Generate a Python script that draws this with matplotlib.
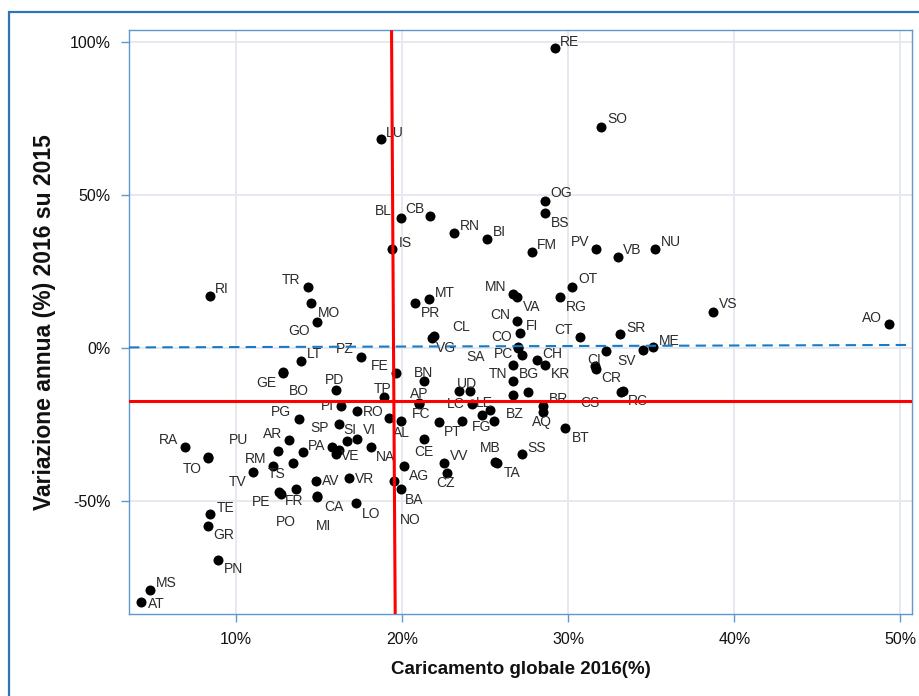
import matplotlib
matplotlib.use("Agg")
import matplotlib.pyplot as plt
from matplotlib import font_manager
from matplotlib.ticker import FixedLocator, FuncFormatter
from matplotlib.patches import Rectangle

# Province codes, global load 2016 (%) and yearly change 2016 vs 2015 (%)
province = [
    "RE", "SO", "LU", "OG", "BS", "BL", "CB", "IS", "RN", "BI", "FM", "PV", "VB", "NU",
    "VS", "AO", "RI", "TR", "MO", "GO", "MT", "PR", "MN", "VA", "OT", "RG", "CN", "FI",
    "CO", "SA", "PC", "CL", "VG", "CT", "SR", "ME", "", "SV", "CI", "CR", "RC", "CS",
    "CH", "KR", "BG", "TN", "", "", "BR", "AQ", "BT", "UD", "LC", "LE", "FG", "BZ",
    "", "", "PT", "CE", "VV", "CZ", "AG", "BA", "NO", "MB", "TA", "SS", "BN", "AP",
    "FC", "AL", "", "TP", "FE", "PZ", "LT", "GE", "BO", "PD", "PI", "RO", "PG", "SP",
    "SI", "VI", "NA", "AR", "PA", "VE", "", "", "RM", "", "TS", "TV", "RA", "TO",
    "PU", "AV", "VR", "PE", "PO", "FR", "CA", "MI", "LO", "TE", "GR", "PN", "MS", "AT",
]
caricamento = [
    29.2, 32.0, 18.7, 28.6, 28.6, 19.9, 21.7, 19.4, 23.1, 25.1, 27.8, 31.7, 33.0, 35.2,
    38.7, 49.3, 8.4, 14.3, 14.5, 14.9, 21.6, 20.8, 26.7, 26.9, 30.2, 29.5, 26.9, 27.1,
    27.0, 27.0, 27.2, 21.9, 21.8, 30.7, 33.1, 35.1, 34.5, 32.3, 31.6, 31.7, 33.3, 33.2,
    28.1, 28.6, 26.7, 26.7, 26.7, 27.6, 28.5, 28.5, 29.8, 24.1, 23.4, 24.2, 24.8, 25.3,
    25.5, 23.6, 22.2, 21.3, 22.5, 22.7, 20.1, 19.9, 19.5, 25.6, 25.7, 27.2, 21.3, 21.0,
    21.0, 19.9, 19.2, 18.9, 19.6, 17.5, 13.9, 12.8, 12.8, 16.0, 16.3, 17.3, 13.8, 16.2,
    16.7, 17.3, 18.1, 13.2, 14.0, 15.8, 16.2, 16.0, 12.5, 13.4, 12.2, 11.0, 6.9, 8.3,
    8.3, 14.8, 16.8, 12.6, 12.7, 13.6, 14.9, 14.9, 17.2, 8.4, 8.3, 8.9, 4.8, 4.3,
]
variazione = [
    98.0, 72.2, 68.3, 48.0, 44.1, 42.5, 43.1, 32.4, 37.6, 35.6, 31.4, 32.4, 29.7, 32.4,
    11.8, 7.8, 17.0, 19.9, 14.7, 8.5, 16.0, 14.7, 17.6, 16.7, 19.9, 16.7, 8.8, 4.9,
    0.3, 0.0, -2.3, 3.9, 3.3, 3.6, 4.6, 0.3, -0.7, -1.0, -5.9, -6.9, -14.1, -14.4,
    -3.9, -5.6, -5.6, -10.8, -15.4, -14.4, -19.0, -20.9, -26.1, -14.1, -14.1, -18.3, -21.9, -20.3,
    -23.9, -23.9, -24.2, -29.7, -37.6, -40.8, -38.6, -46.1, -43.5, -37.3, -37.6, -34.6, -10.8, -18.0,
    -18.3, -23.9, -22.9, -16.0, -8.2, -2.9, -4.2, -7.8, -8.2, -13.7, -19.0, -20.6, -23.2, -24.8,
    -30.4, -29.7, -32.4, -30.1, -34.0, -32.4, -33.3, -34.6, -33.7, -37.6, -38.6, -40.5, -32.4, -35.9,
    -35.6, -43.5, -42.5, -47.1, -47.7, -46.1, -48.4, -48.7, -50.7, -54.2, -58.2, -69.3, -79.1, -83.0,
]

# Reference lines: average load (slightly sloped), average change, zero-change trend
soglia_x = [19.36, 19.58]
soglia_x_y = [103.3, -86.9]
soglia_y = -17.3
trend_x = [3.55, 50.7]
trend_y = [0.2, 1.0]

x_ticks = [10, 20, 30, 40, 50]
y_ticks = [-50, 0, 50, 100]

# Label placement around each marker: (dx, dy) in pixels, y pointing up
label_offset = {
    "RE": (15, 7), "SO": (16, 9), "LU": (14, 7), "OG": (16, 9), "BS": (15, -9),
    "BL": (-17, 8), "CB": (-16, 8), "IS": (13, 7), "RN": (16, 8), "BI": (13, 8),
    "FM": (15, 8), "PV": (-16, 8), "VB": (14, 8), "NU": (16, 8), "VS": (15, 9),
    "AO": (-17, 7), "RI": (12, 8), "TR": (-17, 8), "MO": (18, -9), "GO": (-18, -8),
    "MT": (16, 7), "PR": (15, -9), "MN": (-18, 8), "VA": (15, -9), "OT": (16, 9),
    "RG": (16, -9), "CN": (-17, 7), "FI": (12, 8), "CO": (-17, 11), "SA": (-43, -8),
    "PC": (-18, 2), "CL": (27, 10), "VG": (14, -9), "CT": (-16, 8), "SR": (16, 7),
    "ME": (16, 7), "SV": (20, -9), "CI": (-1, 7), "CR": (15, -8), "RC": (15, -9),
    "CS": (-32, -10), "CH": (16, 7), "KR": (16, -8), "BG": (15, -8), "TN": (-15, 8),
    "BR": (15, 8), "AQ": (-1, -9), "BT": (16, -9), "UD": (-3, 8), "LC": (-3, -12),
    "LE": (12, 2), "FG": (0, -11), "BZ": (25, -3), "PT": (14, -9), "CE": (0, -12),
    "VV": (15, 8), "CZ": (-2, -9), "AG": (15, -9), "BA": (14, -10), "NO": (16, -38),
    "MB": (-5, 15), "TA": (15, -9), "SS": (15, 7), "BN": (0, 9), "AP": (0, 10),
    "FC": (2, -9), "AL": (1, -11), "TP": (-1, 9), "FE": (-16, 8), "PZ": (-16, 9),
    "LT": (14, 8), "GE": (-16, -10), "BO": (16, -17), "PD": (-1, 11), "PI": (-13, 1),
    "RO": (16, 0), "PG": (-18, 8), "SP": (-19, -3), "SI": (3, 12), "VI": (12, 10),
    "NA": (15, -9), "AR": (-17, 7), "PA": (14, 7), "VE": (18, -8), "RM": (-22, -7),
    "TS": (4, -7), "TV": (-15, -9), "RA": (-16, 8), "TO": (-16, -10), "PU": (31, 18),
    "AV": (15, 1), "VR": (16, 0), "PE": (-18, -9), "PO": (5, -27), "FR": (-2, -11),
    "CA": (16, -10), "MI": (6, -28), "LO": (15, -10), "TE": (16, 7), "GR": (16, -8),
    "PN": (16, -8), "MS": (16, 8), "AT": (15, -1),
}

installed = {f.name for f in font_manager.fontManager.ttflist}
narrow = "Liberation Sans Narrow" if "Liberation Sans Narrow" in installed else "Liberation Sans"
regular = "Liberation Sans"

fig = plt.figure(figsize=(9.2, 6.96), dpi=100)
ax = fig.add_axes([129 / 920, 1 - 614 / 696, 783 / 920, 584 / 696])

# Outer frame of the whole panel
fig.patches.append(Rectangle((9 / 920, -0.05), 1.2, 1 - 12 / 696 + 0.05,
                             transform=fig.transFigure, fill=False,
                             edgecolor="#2f74b5", linewidth=1.6, zorder=0))

ax.set_xlim(3.55, 50.7)
ax.set_ylim(-86.9, 103.9)

ax.xaxis.set_major_locator(FixedLocator(x_ticks))
ax.yaxis.set_major_locator(FixedLocator(y_ticks))
ax.xaxis.set_major_formatter(FuncFormatter(lambda v, p: f"{v:.0f}%"))
ax.yaxis.set_major_formatter(FuncFormatter(lambda v, p: f"{v:.0f}%"))

ax.grid(True, color="#e6e9f0", linewidth=1.4, zorder=0)
ax.set_axisbelow(True)
for s in ax.spines.values():
    s.set_color("#5f97cf")
    s.set_linewidth(1.0)
ax.tick_params(axis="both", direction="out", length=6, width=1.0, color="#5f97cf",
               labelsize=11.5, labelcolor="#111111", pad=7)
for lab in ax.get_xticklabels() + ax.get_yticklabels():
    lab.set_fontfamily(narrow)

ax.scatter(caricamento, variazione, s=52, color="black", zorder=3, linewidths=0)

label_size = 10
cap_half = label_size * 100 / 72 * 0.716 / 2
for code, xv, yv in zip(province, caricamento, variazione):
    if not code:
        continue
    dx, dy = label_offset[code]
    ax.annotate(code, (xv, yv), xytext=(dx, dy - cap_half), textcoords="offset pixels",
                ha="center", va="baseline", fontsize=label_size, color="#2b2b2b",
                fontfamily=regular, zorder=4)

ax.plot(soglia_x, soglia_x_y, color="#ff0000", linewidth=2.2, zorder=5)
ax.axhline(soglia_y, color="#ff0000", linewidth=2.2, zorder=5)
ax.plot(trend_x, trend_y, color="#1a7ac4", linewidth=1.5, linestyle=(0, (5, 3)), zorder=5)

ax.set_xlabel("Caricamento globale 2016(%)", fontsize=13.5, fontweight="bold",
              fontfamily=narrow, color="#111111", labelpad=10)
ax.set_ylabel("Variazione annua (%) 2016 su 2015", fontsize=16.5, fontweight="bold",
              fontfamily=narrow, color="#111111", labelpad=10)

fig.savefig("out.png", dpi=100)
